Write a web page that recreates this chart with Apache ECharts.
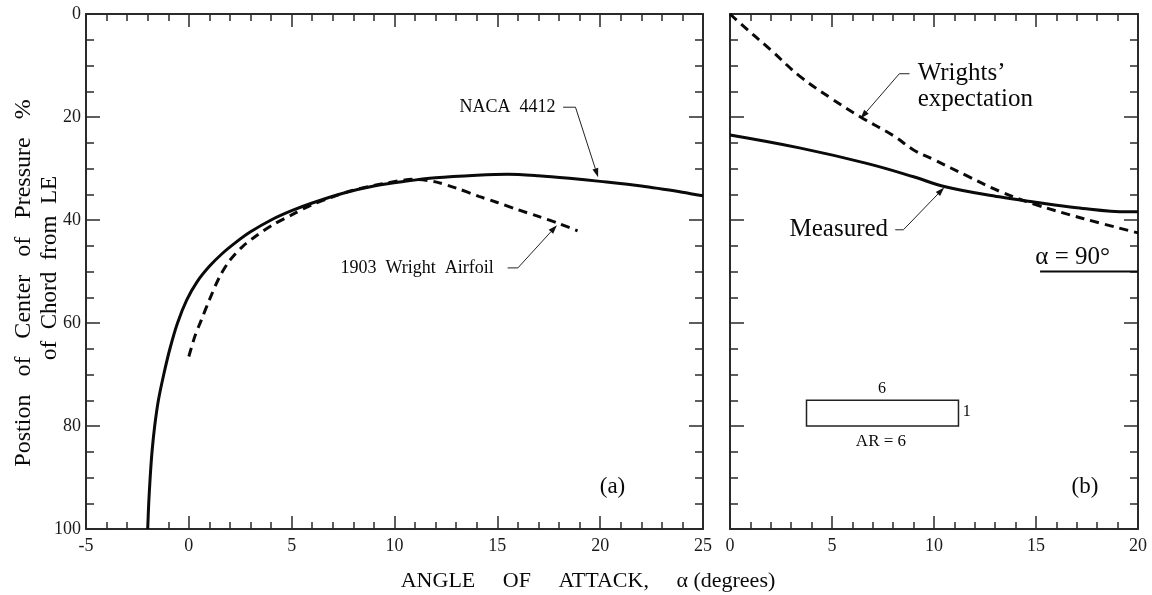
<!DOCTYPE html>
<html>
<head>
<meta charset="utf-8">
<script src="https://cdn.jsdelivr.net/npm/echarts@6/dist/echarts.min.js"></script>
<style>
html,body{margin:0;padding:0;background:#fff;}
#chart{width:1152px;height:595px;}
</style>
</head>
<body>
<div id="chart"></div>
<script>
// ---- Data ----
const naca4412 = [[-2.0,100],[-1.95,95],[-1.88,90],[-1.79,85],[-1.66,80],[-1.48,75],[-1.22,70],[-0.92,65],[-0.55,60],[-0.1,55.5],[0.4,52],[1.0,49],[1.6,46.6],[2.3,44.3],[3.0,42.3],[4.0,40],[5.0,38.2],[6.0,36.7],[7.5,34.8],[9.0,33.4],[10.5,32.5],[12.0,31.8],[14.0,31.3],[15.5,31.1],[17.0,31.4],[18.5,31.9],[20.0,32.5],[22.0,33.4],[24.0,34.6],[25.0,35.3]];
const wright1903 = [[0.0,66.5],[0.3,62.5],[0.6,59.5],[1.0,55.5],[1.5,51],[2.0,47.8],[2.6,45.2],[3.3,43],[4.1,40.9],[5.0,39],[6.0,37],[7.0,35.5],[8.0,34.2],[9.5,32.9],[11.0,32.1],[12.0,32.6],[13.0,33.8],[14.1,35.4],[15.0,36.6],[16.0,38],[17.0,39.3],[18.0,40.7],[18.9,42.1]];
const measured = [[0,23.5],[3.4,26],[6.7,29],[9.0,31.6],[10.5,33.5],[13.2,35.5],[14.9,36.5],[17.0,37.6],[19.5,38.4],[20,38.4]];
const wrightsExpectation = [[0,0],[0.5,1.8],[2.0,7],[3.4,12],[5.0,16.5],[6.4,20],[8.0,23.6],[9.0,26.4],[10.0,28.3],[11.6,31.4],[13.2,34.4],[14.9,36.9],[17.3,39.7],[20,42.5]];
const xTicksA = [-5, 25, 5];
const xTicksB = [0, 20, 5];
const yTicks = [0, 100, 20];

// ---- Annotations (data coordinates) ----
const annotA = [
  {kind:'text', at:[15.5,18.1], text:'NACA  4412', size:18, align:'center'},
  {kind:'leader', pts:[[18.2,18.1],[18.8,18.1],[19.9,31.7]]},
  {kind:'text', at:[11.1,49.3], text:'1903  Wright  Airfoil', size:18, align:'center'},
  {kind:'leader', pts:[[15.5,49.3],[16.0,49.3],[17.9,41.0]]},
  {kind:'text', at:[20.6,91.8], text:'(a)', size:23, align:'center'}
];
const annotB = [
  {kind:'text', at:[9.2,11.6], text:'Wrights\u2019', size:25, align:'left'},
  {kind:'text', at:[9.2,16.6], text:'expectation', size:25, align:'left'},
  {kind:'leader', pts:[[8.8,11.6],[8.3,11.6],[6.4,20.3]]},
  {kind:'text', at:[7.75,41.9], text:'Measured', size:25, align:'right'},
  {kind:'leader', pts:[[8.1,41.9],[8.5,41.9],[10.5,33.7]]},
  {kind:'text', at:[16.8,47.3], text:'α = 90°', size:25, align:'center'},
  {kind:'line', pts:[[15.2,50],[20,50]]},
  {kind:'rect', from:[3.75,75], to:[11.2,80]},
  {kind:'text', at:[7.45,72.8], text:'6', size:16, align:'center'},
  {kind:'text', at:[11.6,77.3], text:'1', size:16, align:'center'},
  {kind:'text', at:[7.4,83.0], text:'AR = 6', size:17, align:'center'},
  {kind:'text', at:[17.4,91.8], text:'(b)', size:23, align:'center'}
];

const FONT = '"Liberation Serif", "Times New Roman", serif';
const AX = '#2a2a2a';
const INK = '#0a0a0a';

function renderAnnot(list) {
  return function (params, api) {
    const a = list[params.dataIndex];
    if (a.kind === 'text') {
      const p = api.coord(a.at);
      return {type:'text', x:p[0], y:p[1], style:{text:a.text, font: a.size + 'px ' + FONT, fill:INK, align:a.align, textAlign:a.align, verticalAlign:'middle', textVerticalAlign:'middle'}};
    }
    if (a.kind === 'leader') {
      const pts = a.pts.map(q => api.coord(q));
      const n = pts.length;
      const tip = pts[n-1], prev = pts[n-2];
      const dx = tip[0]-prev[0], dy = tip[1]-prev[1];
      const L = Math.sqrt(dx*dx+dy*dy);
      const ux = dx/L, uy = dy/L;
      const len = 9, w = 3;
      const bx = tip[0]-ux*len, by = tip[1]-uy*len;
      return {type:'group', children:[
        {type:'polyline', shape:{points:pts.slice(0,n-1).concat([[bx,by]])}, style:{stroke:'#222', lineWidth:1, fill:null}},
        {type:'polygon', shape:{points:[tip,[bx-uy*w,by+ux*w],[bx+uy*w,by-ux*w]]}, style:{fill:'#111', stroke:null}}
      ]};
    }
    if (a.kind === 'line') {
      const pts = a.pts.map(q => api.coord(q));
      return {type:'polyline', shape:{points:pts}, style:{stroke:INK, lineWidth:2, fill:null}};
    }
    if (a.kind === 'rect') {
      const p1 = api.coord(a.from), p2 = api.coord(a.to);
      return {type:'rect', shape:{x:p1[0], y:p1[1], width:p2[0]-p1[0], height:p2[1]-p1[1]}, style:{fill:null, stroke:'#222', lineWidth:1.5}};
    }
    return null;
  };
}

function xAxisDef(grid, pos, ticks, labels) {
  return {
    type:'value', gridIndex:grid, position:pos, min:ticks[0], max:ticks[1], interval:ticks[2],
    axisLine:{show:true, onZero:false, lineStyle:{color:AX, width:2}},
    axisTick:{show:true, inside:true, length:13, lineStyle:{color:AX, width:1.5}},
    minorTick:{show:true, splitNumber:5, length:7, lineStyle:{color:AX, width:1.5}},
    axisLabel:{show:labels, margin:8, color:'#1a1a1a', fontFamily:FONT, fontSize:18},
    splitLine:{show:false}
  };
}
function yAxisDef(grid, pos, labels) {
  return {
    type:'value', gridIndex:grid, position:pos, inverse:true, min:yTicks[0], max:yTicks[1], interval:yTicks[2],
    axisLine:{show:true, onZero:false, lineStyle:{color:AX, width:2}},
    axisTick:{show:true, inside:true, length:14, lineStyle:{color:AX, width:1.5}},
    minorTick:{show:true, splitNumber:4, length:8, lineStyle:{color:AX, width:1.5}},
    axisLabel:{show:labels, margin:5, color:'#1a1a1a', fontFamily:FONT, fontSize:18},
    splitLine:{show:false}
  };
}

const chart = echarts.init(document.getElementById('chart'), null, {renderer:'canvas'});
chart.setOption({
  backgroundColor:'#ffffff',
  animation:false,
  grid:[
    {left:86, top:14, width:617, height:515},
    {left:730, top:14, width:408, height:515}
  ],
  xAxis:[
    xAxisDef(0,'bottom',xTicksA,true),
    xAxisDef(0,'top',xTicksA,false),
    xAxisDef(1,'bottom',xTicksB,true),
    xAxisDef(1,'top',xTicksB,false)
  ],
  yAxis:[
    yAxisDef(0,'left',true),
    yAxisDef(0,'right',false),
    yAxisDef(1,'left',false),
    yAxisDef(1,'right',false)
  ],
  series:[
    {type:'line', xAxisIndex:0, yAxisIndex:0, data:naca4412, smooth:0.3, showSymbol:false, lineStyle:{color:INK, width:3}},
    {type:'line', xAxisIndex:0, yAxisIndex:0, data:wright1903, smooth:0.3, showSymbol:false, lineStyle:{color:INK, width:3, type:[9,6]}},
    {type:'line', xAxisIndex:2, yAxisIndex:2, data:measured, smooth:0.4, showSymbol:false, lineStyle:{color:INK, width:3}},
    {type:'line', xAxisIndex:2, yAxisIndex:2, data:wrightsExpectation, smooth:0.4, showSymbol:false, lineStyle:{color:INK, width:3, type:[9,6]}},
    {type:'custom', xAxisIndex:0, yAxisIndex:0, clip:false, silent:true, renderItem:renderAnnot(annotA), data:annotA.map((a,i)=>[i,0])},
    {type:'custom', xAxisIndex:2, yAxisIndex:2, clip:false, silent:true, renderItem:renderAnnot(annotB), data:annotB.map((a,i)=>[i,0])}
  ],
  graphic:[
    {type:'text', x:24, y:283, rotation:Math.PI/2, style:{text:'Postion   of   Center   of   Pressure   %', font:'24px ' + FONT, fill:INK, align:'center', verticalAlign:'middle', textAlign:'center', textVerticalAlign:'middle'}},
    {type:'text', x:50, y:268, rotation:Math.PI/2, style:{text:'of  Chord  from  LE', font:'23px ' + FONT, fill:INK, align:'center', verticalAlign:'middle', textAlign:'center', textVerticalAlign:'middle'}},
    {type:'text', x:588, y:581, style:{text:'ANGLE     OF     ATTACK,     α (degrees)', font:'22px ' + FONT, fill:INK, align:'center', verticalAlign:'middle', textAlign:'center', textVerticalAlign:'middle'}}
  ]
});
</script>
</body>
</html>
